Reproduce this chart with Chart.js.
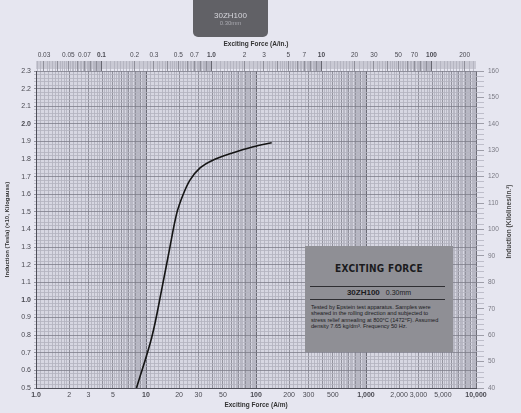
<!DOCTYPE html>
<html>
<head>
<meta charset="utf-8">
<script src="https://cdn.jsdelivr.net/npm/chart.js@4/dist/chart.umd.min.js"></script>
<style>
  body { margin: 0; background: #e6e6f0; }
  #wrap { position: relative; width: 521px; height: 413px; overflow: hidden; }
  #tag { position: absolute; left: 193px; top: -6px; width: 75px; height: 43px; border-radius: 5px;
         background: #616166; text-align: center; font-family: "Liberation Sans", Arial, sans-serif; }
  #tag .a { position: absolute; left: 0; right: 0; top: 17px; font-size: 8px; color: #d6d6dc; }
  #tag .b { position: absolute; left: 0; right: 0; top: 26px; font-size: 6px; color: #a9a9b0; }
  #info { position: absolute; left: 305px; top: 246px; width: 148px; height: 106px;
          background: #8f8f95; font-family: "Liberation Sans", Arial, sans-serif; color: #1b1b1e; }
  #info .title { position: absolute; left: 0; right: 0; top: 17px; text-align: center;
                 font-family: "Liberation Sans Narrow", "DejaVu Sans Condensed", sans-serif;
                 font-weight: bold; font-size: 10px; letter-spacing: 0.3px; }
  #info .rule { position: absolute; left: 5px; right: 8px; height: 1px; background: #2e2e32; }
  #info .grade { position: absolute; left: 0; right: 0; top: 42px; text-align: center; font-size: 7px; }
  #info .grade b { font-size: 8px; margin-right: 6px; }
  #info .note { position: absolute; left: 6px; right: 8px; top: 58px; font-size: 5.6px; line-height: 6.3px; }
</style>
</head>
<body>
<div id="wrap">
  <canvas id="bh-chart" width="521" height="413"></canvas>
  <div id="tag"><div class="a">30ZH100</div><div class="b">0.30mm</div></div>
  <div id="info">
    <div class="title">EXCITING FORCE</div>
    <div class="rule" style="top:40px"></div>
    <div class="grade"><b>30ZH100</b>0.30mm</div>
    <div class="rule" style="top:53px"></div>
    <div class="note">Tested by Epstein test apparatus. Samples were<br>sheared in the rolling direction and subjected to<br>stress relief annealing at 800°C (1472°F). Assumed<br>density 7.65 kg/dm³. Frequency 50 Hz.</div>
  </div>
</div>
<script>
// Magnetization curve
const excitingForce = [8.2, 11.3, 13.9, 16.5, 19.0, 21.5, 25.1, 31.0, 40.9, 58, 94.5, 139]; // A/m
const induction = [0.5, 0.79, 1.06, 1.30, 1.49, 1.59, 1.68, 1.75, 1.795, 1.83, 1.87, 1.893]; // Tesla

// Tick labels
const bottomLabels = [1, 2, 3, 5, 10, 20, 30, 50, 100, 200, 300, 500, 1000, 2000, 3000, 5000, 10000];
const topLabels = [0.03, 0.05, 0.07, 0.1, 0.2, 0.3, 0.5, 0.7, 1.0, 2, 3, 5, 7, 10, 20, 30, 50, 70, 100, 200];
const perInch = 39.37; // A/m -> A/in

const FONT = '"Liberation Sans", Arial, sans-serif';

// log paper grid positions inside one decade
function logGrid(lo, hi) {
    const out = [];
    for (let d = Math.floor(Math.log10(lo)) - 1; d <= Math.ceil(Math.log10(hi)); d++) {
        for (let m = 10; m < 100; m += (m < 20 ? 1 : 2)) {
            const v = (m / 10) * Math.pow(10, d);
            if (v >= lo * 0.9999 && v <= hi * 1.0001) out.push(v);
        }
    }
    return out;
}

function same(a, b) { return Math.abs(a - b) / b < 1e-6; }
function isDecade(v) { return Math.abs(Math.log10(v) - Math.round(Math.log10(v))) < 1e-6; }
function isWhole(v) {
    const m = v / Math.pow(10, Math.floor(Math.log10(v) + 1e-9));
    return Math.abs(m - Math.round(m)) < 1e-6;
}

function xGridColor(ctx) {
    const v = ctx.tick && ctx.tick.value;
    if (!v) return '#b6b6c2';
    if (isDecade(v)) return '#4e4e58';
    if (isWhole(v)) return '#80808c';
    return '#b0b0bd';
}

// Plot background and top ruler band
const paperPlugin = {
    id: 'paper',
    beforeDraw(chart) {
        const { ctx, chartArea: a } = chart;
        ctx.save();
        ctx.fillStyle = '#d7d7e2';
        ctx.fillRect(a.left, a.top, a.right - a.left, a.bottom - a.top);
        ctx.fillStyle = '#c9c9d4';
        ctx.fillRect(a.left, a.top - 10, a.right - a.left, 8);
        ctx.restore();
    },
    afterDraw(chart) {
        const { ctx, chartArea: a } = chart;
        ctx.save();
        ctx.translate(509, (a.top + a.bottom) / 2 - 8);
        ctx.rotate(-Math.PI / 2);
        ctx.font = 'bold 6.5px ' + FONT;
        ctx.fillStyle = '#444';
        ctx.textAlign = 'center';
        ctx.textBaseline = 'middle';
        ctx.fillText('Induction (Kilolines/in.²)', 0, 0);
        ctx.restore();
    }
};

new Chart(document.getElementById('bh-chart'), {
    type: 'line',
    data: {
        datasets: [{
            data: excitingForce.map((h, i) => ({ x: h, y: induction[i] })),
            borderColor: '#151515',
            borderWidth: 1.6,
            pointRadius: 0,
            tension: 0.35,
            xAxisID: 'x',
            yAxisID: 'y'
        }]
    },
    options: {
        responsive: false,
        animation: false,
        layout: { padding: { top: 36, left: 0, right: 0, bottom: 0 } },
        plugins: { legend: { display: false }, tooltip: { enabled: false } },
        scales: {
            x: {
                type: 'logarithmic',
                position: 'bottom',
                min: 1,
                max: 10000,
                afterBuildTicks: (s) => { s.ticks = logGrid(1, 10000).map(v => ({ value: v })); },
                afterFit: (s) => { s.height = 25; },
                grid: { color: xGridColor, lineWidth: 0.8, tickLength: 0 },
                border: { color: '#4e4e58' },
                ticks: {
                    autoSkip: false, maxRotation: 0, padding: 3, color: '#4a4a52',
                    font: (c) => ({ family: FONT, size: 7, weight: c.tick && isDecade(c.tick.value) ? 'bold' : 'normal' }),
                    callback: (v) => {
                        const hit = bottomLabels.find(l => same(v, l));
                        if (hit === undefined) return '';
                        return hit === 1 ? '1.0' : hit.toLocaleString('en-US');
                    }
                },
                title: { display: true, text: 'Exciting Force (A/m)', color: '#333', padding: { top: 0, bottom: 4 },
                         font: { family: FONT, size: 6.5, weight: 'bold' } }
            },
            x2: {
                type: 'logarithmic',
                position: 'top',
                min: 1 / perInch,
                max: 10000 / perInch,
                afterBuildTicks: (s) => { s.ticks = logGrid(1 / perInch, 10000 / perInch).map(v => ({ value: v })); },
                afterFit: (s) => { s.height = 35; },
                grid: { drawOnChartArea: false, tickLength: 10, tickColor: xGridColor, tickWidth: 0.8 },
                border: { display: false },
                ticks: {
                    autoSkip: false, maxRotation: 0, padding: 2, color: '#4a4a52',
                    font: (c) => ({ family: FONT, size: 6.5, weight: c.tick && isDecade(c.tick.value) ? 'bold' : 'normal' }),
                    callback: (v) => {
                        const hit = topLabels.find(l => same(v, l));
                        if (hit === undefined) return '';
                        return hit === 1 ? '1.0' : String(hit);
                    }
                },
                title: { display: true, text: 'Exciting Force (A/in.)', color: '#333', padding: { top: 4, bottom: 2 },
                         font: { family: FONT, size: 6.5, weight: 'bold' } }
            },
            y: {
                type: 'linear',
                position: 'left',
                min: 0.5,
                max: 2.3,
                afterFit: (s) => { s.width = 36; },
                grid: {
                    lineWidth: 0.8, tickLength: 2,
                    color: (c) => (Math.round(c.tick.value * 100) % 10 === 0 ? '#7e7e8a' : '#b2b2bf')
                },
                border: { color: '#4e4e58' },
                ticks: {
                    stepSize: 0.02, autoSkip: false, padding: 3, color: '#4a4a52',
                    font: (c) => {
                        const v = c.tick ? Math.round(c.tick.value * 100) : 0;
                        return { family: FONT, size: 7, weight: (v === 100 || v === 200) ? 'bold' : 'normal' };
                    },
                    callback: (v) => (Math.round(v * 100) % 10 === 0 ? v.toFixed(1) : '')
                },
                title: { display: true, text: 'Induction (Tesla) (×10, Kilogauss)', color: '#333', padding: { top: 4, bottom: 0 },
                         font: { family: FONT, size: 6, weight: 'bold' } }
            },
            y2: {
                type: 'linear',
                position: 'right',
                min: 40,
                max: 160,
                afterFit: (s) => { s.width = 45; },
                grid: {
                    drawOnChartArea: false, tickLength: 8, tickWidth: 0.8,
                    tickColor: (c) => (c.tick.value % 10 === 0 ? '#8a8a96' : '#b4b4c0')
                },
                border: { display: false },
                ticks: {
                    stepSize: 2, autoSkip: false, padding: 4, color: '#7a7a84',
                    font: { family: FONT, size: 6.5 },
                    callback: (v) => (v % 10 === 0 ? String(v) : '')
                }
            }
        }
    },
    plugins: [paperPlugin]
});
</script>
</body>
</html>
